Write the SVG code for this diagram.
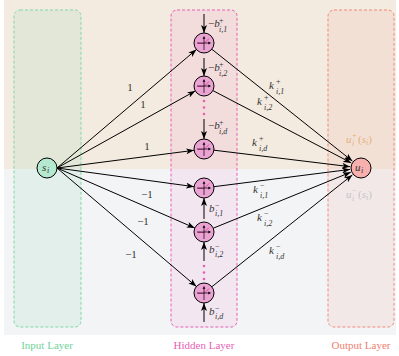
<svg xmlns="http://www.w3.org/2000/svg" xmlns:xlink="http://www.w3.org/1999/xlink" width="399" height="356" viewBox="0 0 399 356">
<style>
.m{font-family:"Liberation Serif",serif;font-size:11px;fill:#333}
.i{font-style:italic}
.s{font-family:"Liberation Serif",serif;font-size:8px;fill:#333;font-style:italic}
.sup{font-family:"Liberation Serif",serif;font-size:8px;fill:#333}
.num{font-family:"Liberation Serif",serif;font-size:11px;fill:#333;text-anchor:middle}
.lay{font-family:"Liberation Serif",serif;font-size:11px;text-anchor:middle}
.edge{stroke:#000;stroke-width:1;fill:none;marker-end:url(#ah)}
.hn{fill:#eaa3d3;stroke:#000;stroke-width:1}
.box{stroke-width:1;stroke-dasharray:3,2}
</style>
<defs>
<marker id="ah" markerWidth="8" markerHeight="6" refX="8" refY="3" orient="auto" markerUnits="userSpaceOnUse"><path d="M0,0 L8,3 L0,6 L2,3 z" fill="#000"/></marker>
<g id="icon">
<polyline points="-6,0.5 0,0.5 5,-4.5" fill="none" stroke="#e0479f" stroke-width="1"/>
<line x1="-7" y1="0" x2="5" y2="0" stroke="#000" stroke-width="0.7"/>
<path d="M7,0 L4.3,-1.4 L4.3,1.4z" fill="#000"/>
<line x1="0" y1="7" x2="0" y2="-5" stroke="#000" stroke-width="0.7"/>
<path d="M0,-7 L-1.4,-4.3 L1.4,-4.3z" fill="#000"/>
</g>
</defs>
<g id="background">
<rect x="4" y="0" width="392" height="169" fill="#f3eae0"/>
<rect x="4" y="169" width="392" height="166" fill="#f3f4f6"/>
</g>
<g id="layers">
<rect class="box" x="14" y="10" width="67" height="317" rx="6" fill="#8fdcb0" fill-opacity="0.16" stroke="#7dd9a6"/>
<rect class="box" x="171" y="10" width="66" height="317" rx="6" fill="#ea6fbe" fill-opacity="0.1" stroke="#e75fb5"/>
<rect class="box" x="328" y="10" width="66" height="317" rx="6" fill="#f4a090" fill-opacity="0.14" stroke="#f4877a"/>
<text class="lay" x="47" y="349" fill="#6fd39a">Input Layer</text>
<text class="lay" x="204" y="349" fill="#e75fb5">Hidden Layer</text>
<text class="lay" x="361" y="349" fill="#f08070">Output Layer</text>
</g>
<g id="connectors">
<line class="edge" x1="57" y1="168" x2="196.4" y2="49.5"/>
<line class="edge" x1="57" y1="168" x2="195.3" y2="90.9"/>
<line class="edge" x1="57" y1="168" x2="194.1" y2="150.3"/>
<line class="edge" x1="57" y1="168" x2="194.1" y2="186.7"/>
<line class="edge" x1="57" y1="168" x2="194.8" y2="228"/>
<line class="edge" x1="57" y1="168" x2="196.4" y2="286.5"/>
<line class="edge" x1="211.8" y1="49.2" x2="352.4" y2="161.1"/>
<line class="edge" x1="212.9" y1="90.6" x2="351.3" y2="162.9"/>
<line class="edge" x1="213.9" y1="150.2" x2="350.1" y2="166.7"/>
<line class="edge" x1="213.9" y1="186.7" x2="350.1" y2="169.4"/>
<line class="edge" x1="213.3" y1="228.2" x2="350.8" y2="172.2"/>
<line class="edge" x1="211.8" y1="286.8" x2="352.4" y2="174.9"/>
<line class="edge" x1="204" y1="14" x2="204" y2="33"/>
<line class="edge" x1="204" y1="58" x2="204" y2="76"/>
<line class="edge" x1="204" y1="119" x2="204" y2="139"/>
<line class="edge" x1="204" y1="219" x2="204" y2="198"/>
<line class="edge" x1="204" y1="261" x2="204" y2="242"/>
<line class="edge" x1="204" y1="322" x2="204" y2="303"/>
<text class="num" x="130" y="91">1</text>
<text class="num" x="143" y="108">1</text>
<text class="num" x="147" y="150">1</text>
<text class="num" x="147" y="198">−1</text>
<text class="num" x="143" y="225">−1</text>
<text class="num" x="131" y="258">−1</text>
<text class="m i" x="269" y="89">k</text><text class="sup" x="276" y="84">+</text><text class="s" x="276" y="93.5">i,1</text>
<text class="m i" x="257" y="105">k</text><text class="sup" x="264" y="100">+</text><text class="s" x="264" y="109.5">i,2</text>
<text class="m i" x="252" y="146">k</text><text class="sup" x="259" y="141">+</text><text class="s" x="259" y="150.5">i,d</text>
<text class="m i" x="253" y="193">k</text><text class="sup" x="260" y="188">−</text><text class="s" x="260" y="197.5">i,1</text>
<text class="m i" x="257" y="221">k</text><text class="sup" x="264" y="216">−</text><text class="s" x="264" y="225.5">i,2</text>
<text class="m i" x="269" y="254">k</text><text class="sup" x="276" y="249">−</text><text class="s" x="276" y="258.5">i,d</text>
<text class="m" x="208" y="27">−<tspan class="i">b</tspan></text><text class="sup" x="219" y="23">+</text><text class="s" x="219" y="32">i,1</text>
<text class="m" x="208" y="71">−<tspan class="i">b</tspan></text><text class="sup" x="219" y="67">+</text><text class="s" x="219" y="76">i,2</text>
<text class="m" x="208" y="129">−<tspan class="i">b</tspan></text><text class="sup" x="219" y="125">+</text><text class="s" x="219" y="134">i,d</text>
<text class="m i" x="209" y="212">b</text><text class="sup" x="215" y="208">−</text><text class="s" x="215" y="216">i,1</text>
<text class="m i" x="209" y="253">b</text><text class="sup" x="215" y="249">−</text><text class="s" x="215" y="257">i,2</text>
<text class="m i" x="209" y="315">b</text><text class="sup" x="215" y="311">−</text><text class="s" x="215" y="319">i,d</text>
</g>
<g id="dots" fill="#e75fb5">
<circle cx="204" cy="101" r="1.3"/><circle cx="204" cy="107.5" r="1.3"/><circle cx="204" cy="114" r="1.3"/>
<circle cx="204" cy="266" r="1.3"/><circle cx="204" cy="272.5" r="1.3"/><circle cx="204" cy="279" r="1.3"/>
</g>
<g id="node-s">
<circle cx="47" cy="168" r="10" fill="#b4e8cf" stroke="#000" stroke-width="1"/>
<text class="m i" x="42" y="171">s</text><text class="s" x="47" y="173">i</text>
</g>
<g id="node-h1"><circle class="hn" cx="204" cy="43" r="10"/><use xlink:href="#icon" x="204" y="43"/></g>
<g id="node-h2"><circle class="hn" cx="204" cy="86" r="10"/><use xlink:href="#icon" x="204" y="86"/></g>
<g id="node-hd"><circle class="hn" cx="204" cy="149" r="10"/><use xlink:href="#icon" x="204" y="149"/></g>
<g id="node-l1"><circle class="hn" cx="204" cy="188" r="10"/><use xlink:href="#icon" x="204" y="188"/></g>
<g id="node-l2"><circle class="hn" cx="204" cy="232" r="10"/><use xlink:href="#icon" x="204" y="232"/></g>
<g id="node-ld"><circle class="hn" cx="204" cy="293" r="10"/><use xlink:href="#icon" x="204" y="293"/></g>
<g id="node-u">
<circle cx="361" cy="168" r="10" fill="#f7b0ae" stroke="#000" stroke-width="1"/>
<text class="m i" x="355" y="171">u</text><text class="s" x="361" y="173">i</text>
</g>
<g id="output-labels">
<text class="m i" x="346" y="143" style="fill:#e3b07c">u</text><text class="sup" x="352" y="138" style="fill:#e3b07c">+</text><text class="s" x="352" y="146" style="fill:#e3b07c">i</text><text class="m" x="358" y="143" style="fill:#e3b07c">(<tspan class="i">s</tspan><tspan class="s" dy="2" style="fill:#e3b07c">i</tspan><tspan dy="-2">)</tspan></text>
<text class="m i" x="346" y="198" style="fill:#c4c4c4">u</text><text class="sup" x="352" y="193" style="fill:#c4c4c4">−</text><text class="s" x="352" y="201" style="fill:#c4c4c4">i</text><text class="m" x="358" y="198" style="fill:#c4c4c4">(<tspan class="i">s</tspan><tspan class="s" dy="2" style="fill:#c4c4c4">i</tspan><tspan dy="-2">)</tspan></text>
</g>
</svg>
